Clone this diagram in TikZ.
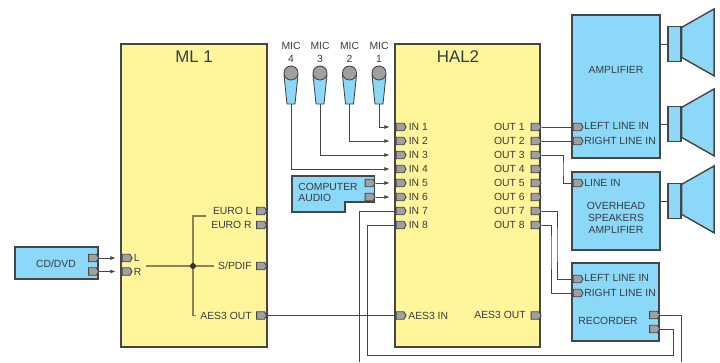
\documentclass[tikz,border=0pt]{standalone}
\usepackage{fontspec}
\setmainfont{Liberation Sans}
\usepackage{tikz}
\usetikzlibrary{
  arrows.meta,shapes.symbols
}
\definecolor{BoxYellow}{RGB}{255,245,155}
\definecolor{BoxBlue}{RGB}{140,216,248}
\definecolor{PortGray}{RGB}{160,160,160}
\definecolor{LineDark}{RGB}{70,70,70}
\definecolor{TextDark}{RGB}{55,60,65}
\definecolor{BusOlive}{RGB}{138,131,85}
\tikzset{
  ybox/.style={draw=LineDark,line width=.8pt,fill=BoxYellow,inner sep=0pt},
  bbox/.style={draw=LineDark,line width=.8pt,fill=BoxBlue,inner sep=0pt},
  port/.style={signal,signal to=east,signal pointer angle=120,draw=LineDark,line width=.5pt,
    fill=PortGray,inner sep=0pt,minimum width=.2cm,minimum height=.15cm},
  lbl/.style={text=TextDark,inner sep=0pt,align=center,font=\fontsize{5.9}{7}\selectfont},
  ttl/.style={text=TextDark,inner sep=0pt,font=\fontsize{9.6}{11}\selectfont},
  wire/.style={draw=LineDark,line width=.55pt},
  feed/.style={wire,-{Latex[length=3pt,width=2.4pt]},shorten >=.12cm},
  bus/.style={draw=BusOlive,line width=.8pt}
}
\begin{document}
\begin{tikzpicture}[x=.02cm,y=-.02cm]
  \useasboundingbox (0,0) rectangle (720,362);
  \node[ybox,minimum width=2.92cm,minimum height=6.06cm] (ml) at (194,195.5) {};
  \node[ybox,minimum width=2.9cm,minimum height=6.06cm] (hal) at (467.5,195.5) {};
  \node[bbox,minimum width=1.66cm,minimum height=.64cm] (cd) at (56.5,263) {};
  \node[bbox,minimum width=1.76cm,minimum height=2.86cm] (amp) at (616,86.5) {};
  \node[bbox,minimum width=1.76cm,minimum height=1.56cm] (oh) at (616,211) {};
  \node[bbox,minimum width=1.74cm,minimum height=1.56cm] (rec) at (615.5,302) {};
  \draw[bbox] (292,176) -- (374.5,176) -- (374.5,202) -- (345,202) -- (345,212) -- (292,212) -- cycle;
  \node[ttl] (mltitle) at (194,57) {ML 1};
  \node[ttl] (haltitle) at (458,57) {HAL2};
  \node[lbl] (cdtext) at (56,264) {CD/DVD};
  \node[lbl] (amptext) at (616,70) {AMPLIFIER};
  \node[lbl] (ohtext) at (616,218) {OVERHEAD\\SPEAKERS\\AMPLIFIER};
  \node[lbl,anchor=west] (rectext) at (578,321) {RECORDER};
  \node[lbl,anchor=west,align=left] (catext) at (298,192.5) {COMPUTER\\[-.3pt]AUDIO};
  \foreach \n/\x/\m in {1/379/1,2/349.5/2,3/320/3,4/291/4}{
    \node[lbl] (mict\n) at (\x,52.5) {MIC\\\m};
    \draw[draw=LineDark,line width=.5pt,fill=BoxBlue] (\x-7,75) -- (\x+7,75) -- (\x+4,104) -- (\x-4,104) -- cycle;
    \coordinate (micb\n) at (\x,104);
    \node[circle,draw=LineDark,line width=.5pt,fill=PortGray,inner sep=0pt,
      minimum size=.28cm] (mich\n) at (\x,73) {};
  }
  \foreach \n [evaluate=\n as \y using int(113+14*\n)] in {1,...,8}{
    \node[port] (hi\n) at (400,\y) {};
    \node[lbl,anchor=west] (hit\n) at (408.5,\y) {IN \n};
    \node[port] (ho\n) at (535,\y) {};
    \node[lbl,anchor=east] (hot\n) at (525,\y) {OUT \n};
  }
  \node[port] (haes) at (400,315.5) {};
  \node[lbl,anchor=west] (haest) at (408,316) {AES3 IN};
  \node[port] (haeo) at (535,315.5) {};
  \node[lbl,anchor=east] (haeot) at (526,315) {AES3 OUT};
  \foreach \n/\y/\t in {L/258/L,R/271.5/R}{
    \node[port] (mi\n) at (126,\y) {};
    \node[lbl,anchor=west] (mit\n) at (133.5,\y) {\t};
    \node[port] (cd\n) at (92.5,\y) {};
  }
  \foreach \n/\y/\t in {a/211/EURO L,b/225/EURO R,c/266/{S/PDIF},d/315.5/AES3 OUT}{
    \node[port] (mo\n) at (260.5,\y) {};
    \node[lbl,anchor=east] (mot\n) at (252,\y) {\t};
  }
  \node[port] (ca1) at (369,183) {};
  \node[port] (ca2) at (369,197) {};
  \node[port] (ampl) at (577,127) {};
  \node[lbl,anchor=west] (amplt) at (584,125.5) {LEFT LINE IN};
  \node[port] (ampr) at (577,141) {};
  \node[lbl,anchor=west] (amprt) at (584,141) {RIGHT LINE IN};
  \node[port] (ohin) at (577,183) {};
  \node[lbl,anchor=west] (ohint) at (584,182.5) {LINE IN};
  \node[port] (recl) at (577,279) {};
  \node[lbl,anchor=west] (reclt) at (584,277.5) {LEFT LINE IN};
  \node[port] (recr) at (577,293) {};
  \node[lbl,anchor=west] (recrt) at (584,293) {RIGHT LINE IN};
  \node[port] (rec1) at (653.5,315) {};
  \node[port] (rec2) at (653.5,329) {};
  \foreach \n/\y in {1/44,2/124,3/201}{
    \node[bbox,line width=.7pt,minimum width=.26cm,minimum height=.7cm] (spk\n) at (674.5,\y) {};
    \draw[bbox] (spk\n.north east) ++(0,1.5) -- ++(32.5,-18.5) -- ++(0,67) -- ++(-32.5,-18.5) -- cycle;
  }
  \draw[wire] (spk1.west -| amp.east) -- (spk1.west);
  \draw[wire] (spk2.west -| amp.east) -- (spk2.west);
  \draw[wire] (spk3.west -| oh.east) -- (spk3.west);
  \foreach \n in {1,...,4}{
    \draw[feed] (micb\n) |- (hi\n.west);
  }
  \draw[feed] (ca1.east) -- (hi5.west);
  \draw[feed] (ca2.east) -- (hi6.west);
  \draw[feed] (cdL.east) -- (miL.west);
  \draw[feed] (cdR.east) -- (miR.west);
  \coordinate (busa) at (146,266);
  \coordinate (busb) at (214,266);
  \coordinate (bustop) at (193,216);
  \coordinate (bustopr) at (206,216);
  \coordinate (busbot) at (193,315.5);
  \coordinate (busbotr) at (196,315.5);
  \coordinate (busjoin) at (193,266);
  \draw[bus] (busa) -- (busb);
  \draw[bus] (bustopr) -- (bustop) -- (busbot) -- (busbotr);
  \fill[black!80] (busjoin) circle (1.7pt);
  \draw[wire] (mod.east) -- (haes.west);
  \coordinate (drop7) at (359,362);
  \coordinate (turn8) at (367,355.5);
  \coordinate (turnrec) at (673.7,355.5);
  \coordinate (droprec) at (681.7,362);
  \coordinate (out3x) at (563,169);
  \coordinate (out7x) at (557,245);
  \coordinate (out8x) at (551,245);
  \draw[wire] (hi7.west) -| (drop7);
  \draw[wire] (hi8.west) -| (turn8) -- (turnrec) |- (rec2.east);
  \draw[wire] (rec1.east) -| (droprec);
  \draw[wire] (ho1.east) -- (ampl.west);
  \draw[wire] (ho2.east) -- (ampr.west);
  \draw[wire] (ho3.east) -| (out3x) |- (ohin.west);
  \draw[wire] (ho7.east) -| (out7x) |- (recl.west);
  \draw[wire] (ho8.east) -| (out8x) |- (recr.west);
\end{tikzpicture}
\end{document}
